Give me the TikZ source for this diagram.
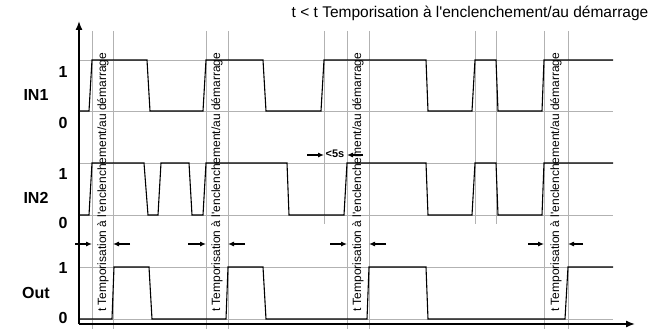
\documentclass[tikz,border=0pt]{standalone}
\usepackage{fontspec}
\setmainfont{Liberation Sans}[Ligatures=TeXOff]
\usetikzlibrary{arrows.meta}
\begin{document}
\begin{tikzpicture}[x=1pt,y=-1pt,
  gridline/.style={draw=black!30,line width=0.7pt},
  sig/.style={draw=black,line width=1.1pt,line join=miter},
  axis/.style={draw=black,line width=1.4pt,-{Latex[length=9pt,width=7pt]}},
  tarrow/.style={draw=black,line width=1.1pt,-{Latex[length=6pt,width=5pt]}},
  lvl/.style={font=\fontsize{16}{16}\selectfont\bfseries,inner sep=0},
  vtext/.style={rotate=90,anchor=west,inner sep=0,font=\fontsize{12}{12}\selectfont},
]
\useasboundingbox (0,0) rectangle (667,329);

% grid
\foreach \y in {60,111,163,215,267,319} \draw[gridline] (79,\y) -- (613,\y);
\foreach \x in {92,113,206,228,347,369,544,568} \draw[gridline] (\x,31) -- (\x,329);
\foreach \x in {324,475,496} \draw[gridline] (\x,31) -- (\x,224);

% signals
\draw[sig] (79,111)--(89,111)--(92,60)--(147,60)--(150,111)--(203,111)--(206,60)--(263,60)--(266,111)--(321,111)--(324,60)--(426,60)--(428,111)--(472,111)--(475,60)--(496,60)--(498,111)--(542,111)--(544,60)--(613,60);
\draw[sig] (79,215)--(89,215)--(92,163)--(144,163)--(148,215)--(158,215)--(161,163)--(189,163)--(192,215)--(203,215)--(206,163)--(287,163)--(289,215)--(344,215)--(347,163)--(426,163)--(428,215)--(472,215)--(475,163)--(496,163)--(498,215)--(542,215)--(544,163)--(613,163);
\draw[sig] (79,319)--(112,319)--(114,267)--(149,267)--(152,319)--(226,319)--(228,267)--(263,267)--(266,319)--(367,319)--(369,267)--(426,267)--(428,319)--(565,319)--(568,267)--(613,267);

% axes
\coordinate (o) at (79,324);
\coordinate (ytop) at (79,21);
\coordinate (xend) at (635,324);
\draw[axis] (o) -- (ytop);
\draw[axis] (o) -- (xend);

% level labels
\node[lvl] (in1h) at (63,72) {1};
\node[lvl] (in1) at (36,95) {IN1};
\node[lvl] (in1l) at (63,123) {0};
\node[lvl] (in2h) at (63,174) {1};
\node[lvl] (in2) at (36,198) {IN2};
\node[lvl] (in2l) at (63,223) {0};
\node[lvl] (outh) at (63,268) {1};
\node[lvl] (out) at (36,293) {Out};
\node[lvl] (outl) at (63,318) {0};

% rotated delay texts
\node[vtext] (d1) at (103,312) {t Temporisation à l'enclenchement/au démarrage};
\node[vtext] (d2) at (217,312) {t Temporisation à l'enclenchement/au démarrage};
\node[vtext] (d3) at (358,312) {t Temporisation à l'enclenchement/au démarrage};
\node[vtext] (d4) at (556,312) {t Temporisation à l'enclenchement/au démarrage};

% top caption
\node[inner sep=0,font=\fontsize{15.5}{15.5}\selectfont] (cap) at (470,13) {t < t Temporisation à l'enclenchement/au démarrage};

% delay arrows
\foreach \n/\a/\b in {1/75/92,2/130/113,3/188/206,4/245/228,5/330/347,6/386/369,7/528/544,8/583/568}{
  \coordinate (s\n) at (\a,244);
  \coordinate (e\n) at (\b,244);
  \draw[tarrow] (s\n) -- (e\n);
}

% <5s
\coordinate (fa) at (307,155);
\coordinate (fb) at (324,155);
\coordinate (ga) at (363,155);
\coordinate (gb) at (347,155);
\draw[tarrow] (fa) -- (fb);
\draw[tarrow] (ga) -- (gb);
\node[inner sep=0,font=\fontsize{11}{11}\selectfont\bfseries] (lt5) at (335,154) {<5s};
\end{tikzpicture}
\end{document}
